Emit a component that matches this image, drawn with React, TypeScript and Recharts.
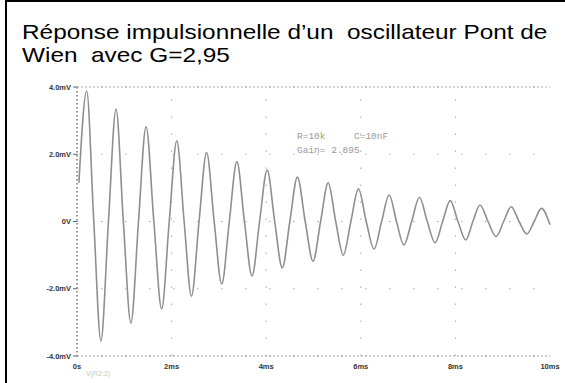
import React from 'react';
import { LineChart, Line, XAxis, YAxis, CartesianGrid, ReferenceLine } from 'recharts';

// Impulse response of a Wien-bridge oscillator: peaks, troughs and zero crossings
const timeMs = [
  0.04, 0.205, 0.355, 0.505, 0.665, 0.825, 0.98, 1.14, 1.3, 1.46, 1.625, 1.79, 1.95,
  2.11, 2.265, 2.42, 2.58, 2.74, 2.9, 3.06, 3.22, 3.38, 3.54, 3.7, 3.86, 4.02, 4.18,
  4.34, 4.5, 4.66, 4.825, 4.99, 5.15, 5.31, 5.47, 5.63, 5.79, 5.95, 6.115, 6.28, 6.44,
  6.6, 6.755, 6.91, 7.075, 7.24, 7.405, 7.57, 7.73, 7.89, 8.055, 8.22, 8.37, 8.52,
  8.69, 8.86, 9.02, 9.18, 9.345, 9.51, 9.665, 9.82, 10.0,
];
const voltMv = [
  1.15, 3.88, 0, -3.55, 0, 3.34, 0, -3.02, 0, 2.82, 0, -2.6, 0,
  2.4, 0, -2.22, 0, 2.05, 0, -1.86, 0, 1.78, 0, -1.62, 0, 1.53, 0,
  -1.38, 0, 1.32, 0, -1.18, 0, 1.15, 0, -1.0, 0, 0.97, 0, -0.82, 0,
  0.79, 0, -0.7, 0, 0.72, 0, -0.63, 0, 0.62, 0, -0.55, 0, 0.49,
  0, -0.45, 0, 0.44, 0, -0.37, 0, 0.39, -0.1,
];

const yTicks = [-4, -2, 0, 2, 4];
const yTickLabels = ['-4.0mV', '-2.0mV', '0V', '2.0mV', '4.0mV'];
const xTicks = [0, 2, 4, 6, 8, 10];
const xTickLabels = ['0s', '2ms', '4ms', '6ms', '8ms', '10ms'];
// interior time divisions carrying the sparse dotted grid
const xGridTicks = [2, 4, 6, 8];

const data = timeMs.map((t, i) => ({ t, v: voltMv[i] }));

const tickStyle = {
  fontSize: 7.5,
  fontFamily: 'Liberation Sans, Arial, sans-serif',
  fontWeight: 700,
  fill: '#333',
};

const titleStyle: React.CSSProperties = {
  position: 'absolute',
  left: 22,
  fontFamily: 'Liberation Sans, Arial, sans-serif',
  fontSize: 21,
  lineHeight: '23px',
  color: '#000',
  whiteSpace: 'pre',
  transform: 'scaleX(1.16)',
  transformOrigin: 'left center',
};

const noteStyle: React.CSSProperties = {
  position: 'absolute',
  fontFamily: 'Liberation Mono, DejaVu Sans Mono, monospace',
  fontSize: 9.5,
  lineHeight: '12px',
  color: '#999',
  whiteSpace: 'pre',
};

export default function App() {
  return (
    <div style={{ position: 'absolute', left: 0, top: 0, width: 565, height: 383, background: '#fff', overflow: 'hidden' }}>
      <div style={{ position: 'absolute', left: 5, top: 0, width: 560, height: 2, background: '#000' }} />
      <div style={{ position: 'absolute', left: 5, top: 0, width: 2, height: 383, background: '#000' }} />
      <div style={{ ...titleStyle, top: 20 }}>Réponse impulsionnelle d’un  oscillateur Pont de</div>
      <div style={{ ...titleStyle, top: 43 }}>Wien  avec G=2,95</div>

      <div style={{ position: 'absolute', left: 0, top: 0 }}>
        <LineChart width={565} height={383} data={data} margin={{ top: 87, right: 15, bottom: 7, left: 37 }}>
          <CartesianGrid horizontal vertical={false} stroke="#aaa" strokeDasharray="1.5 22.5" />
          {xGridTicks.map((v) => (
            <ReferenceLine key={v} x={v} stroke="#aaa" strokeDasharray="1.5 15.5" />
          ))}
          <XAxis
            type="number"
            dataKey="t"
            domain={[0, 10]}
            ticks={xTicks}
            tickFormatter={(v: number) => xTickLabels[xTicks.indexOf(v)]}
            tick={tickStyle}
            tickLine={false}
            axisLine={{ stroke: '#999', strokeDasharray: '2 2' }}
            height={20}
            interval={0}
          />
          <YAxis
            type="number"
            domain={[-4, 4]}
            ticks={yTicks}
            tickFormatter={(v: number) => yTickLabels[yTicks.indexOf(v)]}
            tick={tickStyle}
            tickLine={{ stroke: '#666' }}
            tickSize={4}
            axisLine={{ stroke: '#999', strokeWidth: 2, strokeDasharray: '1.5 2.5' }}
            width={40}
            interval={0}
          />
          <ReferenceLine y={4} stroke="#aaa" strokeDasharray="2 2" />
          <Line
            type="monotone"
            dataKey="v"
            stroke="#8f8f8f"
            strokeWidth={1.6}
            dot={false}
            isAnimationActive={false}
          />
        </LineChart>
      </div>

      <div style={{ ...noteStyle, left: 297, top: 131 }}>R=10k     C=10nF</div>
      <div style={{ ...noteStyle, left: 297, top: 145 }}>Gain= 2.895</div>
      <div style={{ ...noteStyle, left: 86, top: 368, fontSize: 7, color: '#c8c8c8', fontFamily: 'Liberation Sans, Arial, sans-serif' }}>V(R2:2)</div>
    </div>
  );
}
